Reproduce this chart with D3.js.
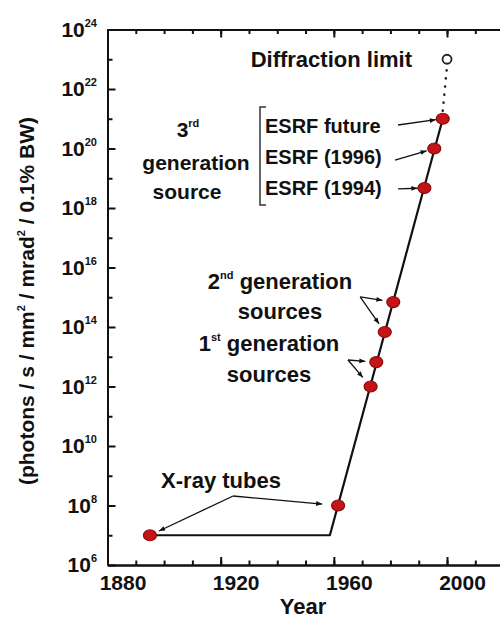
<!DOCTYPE html>
<html>
<head>
<meta charset="utf-8">
<script src="https://cdn.jsdelivr.net/npm/d3@7"></script>
<style>
  body { margin: 0; background: #fff; }
  svg { display: block; }
  text { font-family: "Liberation Sans", Arial, Helvetica, sans-serif; font-weight: bold; fill: #111; }
</style>
</head>
<body>
<svg id="chart" width="500" height="618"></svg>
<script>
// Peak brilliance of X-ray sources over time
const sourceNames = ["X-ray tube (early)", "X-ray tube (rotating anode)", "1st generation A", "1st generation B",
                     "2nd generation A", "2nd generation B", "ESRF (1994)", "ESRF (1996)", "ESRF future"];
const sourceYears = [1895, 1961.5, 1973, 1975, 1978, 1981, 1992, 1995.5, 1998.5];
const sourceBrilliance = [1e7, 1e8, 1e12, 6.6e12, 6.8e13, 6.9e14, 4.7e18, 1e20, 1e21];

// Overall trend: flat for tubes, then steep rise with synchrotrons
const trendYears = [1895, 1958.6, 1998.5];
const trendBrilliance = [1e7, 1e7, 1e21];

// Theoretical ceiling
const limitYear = [2000];
const limitBrilliance = [1e23];

// Axis ticks
const xMajorTicks = [1880, 1920, 1960, 2000];
const xMinorTicks = d3.range(1880, 2021, 10);
const yExponents = d3.range(6, 25);
const yLabelExponents = [6, 8, 10, 12, 14, 16, 18, 20, 22, 24];

const svg = d3.select("#chart");
const x = d3.scaleLinear().domain([1880, 2020]).range([107.5, 503.6]);
const y = d3.scaleLog().domain([1e6, 1e24]).range([565, 29.5]);

const axisStroke = (g) => {
  g.selectAll("path.domain").attr("stroke", "#111").attr("stroke-width", 2);
  g.selectAll(".tick line").attr("stroke", "#111").attr("stroke-width", 2);
};

// Bottom axis (ticks pointing inward)
svg.append("g").attr("transform", `translate(0,${y(1e6)})`)
  .call(d3.axisBottom(x).tickValues(xMinorTicks).tickSizeInner(-4.5).tickSizeOuter(0).tickFormat(""))
  .call(axisStroke);
const bottomMajor = svg.append("g").attr("transform", `translate(0,${y(1e6)})`)
  .call(d3.axisBottom(x).tickValues(xMajorTicks).tickSizeInner(-8).tickSizeOuter(0).tickFormat(d3.format("d")))
  .call(axisStroke);
bottomMajor.selectAll(".tick text")
  .attr("x", 15).attr("y", 25).attr("dy", 0)
  .attr("font-size", 21).attr("fill", "#111")
  .attr("font-family", "Liberation Sans, Arial, sans-serif").attr("font-weight", "bold");

// Top axis (mirror ticks, no labels)
svg.append("g").attr("transform", `translate(0,${y(1e24)})`)
  .call(d3.axisTop(x).tickValues(xMinorTicks).tickSizeInner(-4.5).tickSizeOuter(0).tickFormat(""))
  .call(axisStroke);
svg.append("g").attr("transform", `translate(0,${y(1e24)})`)
  .call(d3.axisTop(x).tickValues(xMajorTicks).tickSizeInner(-8).tickSizeOuter(0).tickFormat(""))
  .call(axisStroke);

// Left axis (log, one tick per decade, longer ticks on labelled decades)
const yTickVals = yExponents.map(e => Math.pow(10, e));
const leftAxis = svg.append("g").attr("transform", `translate(${x(1880)},0)`)
  .call(d3.axisLeft(y).tickValues(yTickVals).tickSizeOuter(0).tickFormat(""))
  .call(axisStroke);
leftAxis.selectAll(".tick line")
  .attr("x2", (d) => yLabelExponents.includes(Math.round(Math.log10(d))) ? 8 : 5);

// Right axis line (frame)
svg.append("line")
  .attr("x1", x(2020)).attr("x2", x(2020)).attr("y1", y(1e24)).attr("y2", y(1e6))
  .attr("stroke", "#111").attr("stroke-width", 2);

// Y tick labels as powers of ten
const yLabels = svg.append("g");
yLabelExponents.forEach(e => {
  const t = yLabels.append("text")
    .attr("x", 97).attr("y", y(Math.pow(10, e)) + 7)
    .attr("text-anchor", "end").attr("font-size", 21);
  t.append("tspan").text("10");
  t.append("tspan").attr("font-size", 11).attr("dy", -10).text(String(e));
});

// Axis titles
svg.append("text")
  .attr("transform", `translate(34,301) rotate(-90)`)
  .attr("text-anchor", "middle").attr("font-size", 21)
  .call(t => {
    t.append("tspan").text("(photons / s / mm");
    t.append("tspan").attr("font-size", 11).attr("dy", -9).text("2");
    t.append("tspan").attr("dy", 9).text(" / mrad");
    t.append("tspan").attr("font-size", 11).attr("dy", -9).text("2");
    t.append("tspan").attr("dy", 9).text(" / 0.1% BW)");
  });
svg.append("text")
  .attr("x", 303).attr("y", 614).attr("text-anchor", "middle").attr("font-size", 22)
  .text("Year");

// Trend line
const line = d3.line().x(d => x(d[0])).y(d => y(d[1]));
svg.append("path")
  .datum(d3.zip(trendYears, trendBrilliance))
  .attr("d", line)
  .attr("fill", "none").attr("stroke", "#111").attr("stroke-width", 2.2)
  .attr("stroke-linejoin", "round");

// Dotted extension to the diffraction limit
const lastIdx = sourceYears.length - 1;
svg.append("line")
  .attr("x1", x(sourceYears[lastIdx])).attr("y1", y(sourceBrilliance[lastIdx]) - 8)
  .attr("x2", x(limitYear[0])).attr("y2", y(limitBrilliance[0]) + 7)
  .attr("stroke", "#222").attr("stroke-width", 2.6)
  .attr("stroke-linecap", "round").attr("stroke-dasharray", "0.1 8");

// Source points
svg.append("g").selectAll("ellipse")
  .data(d3.zip(sourceYears, sourceBrilliance))
  .join("ellipse")
  .attr("cx", d => x(d[0])).attr("cy", d => y(d[1]))
  .attr("rx", 6.5).attr("ry", 5.5)
  .attr("fill", "#c41418").attr("stroke", "#8a0a0c").attr("stroke-width", 1.2);

// Diffraction-limit marker
svg.append("g").selectAll("circle")
  .data(d3.zip(limitYear, limitBrilliance))
  .join("circle")
  .attr("cx", d => x(d[0])).attr("cy", d => y(d[1]))
  .attr("r", 4.5).attr("fill", "#fff").attr("stroke", "#222").attr("stroke-width", 1.8);

// Arrowhead marker
svg.append("defs").append("marker")
  .attr("id", "arrow").attr("viewBox", "0 -5 10 10")
  .attr("refX", 10).attr("refY", 0)
  .attr("markerUnits", "userSpaceOnUse")
  .attr("markerWidth", 8).attr("markerHeight", 6).attr("orient", "auto")
  .append("path").attr("d", "M0,-4L10,0L0,4Z").attr("fill", "#111");

// Annotation arrows: tail in data space (year, log10 brilliance), head stops short of its point
const arrows = [
  { tail: [1982.7, 20.79], target: 8, gap: 7 },
  { tail: [1981.6, 19.61], target: 7, gap: 8 },
  { tail: [1982.7, 18.64], target: 6, gap: 7 },
  { tail: [1969.3, 15.01], target: 5, gap: 11 },
  { tail: [1969.3, 15.01], target: 4, gap: 10 },
  { tail: [1965.0, 12.89], target: 3, gap: 11 },
  { tail: [1965.0, 12.89], target: 2, gap: 12 },
  { tail: [1924.4, 8.32], target: 0, gap: 10 },
  { tail: [1924.4, 8.32], target: 1, gap: 16 }
];
svg.append("g").selectAll("line")
  .data(arrows)
  .join("line")
  .each(function (a) {
    const x0 = x(a.tail[0]), y0 = y(Math.pow(10, a.tail[1]));
    const tx = x(sourceYears[a.target]), ty = y(sourceBrilliance[a.target]);
    const len = Math.hypot(tx - x0, ty - y0);
    const x1 = tx - (tx - x0) / len * a.gap, y1 = ty - (ty - y0) / len * a.gap;
    d3.select(this).attr("x1", x0).attr("y1", y0).attr("x2", x1).attr("y2", y1);
  })
  .attr("stroke", "#111").attr("stroke-width", 1.3)
  .attr("marker-end", "url(#arrow)");

// Bracket grouping the ESRF entries
svg.append("path")
  .attr("d", "M266,107 H260 V205 H266")
  .attr("fill", "none").attr("stroke", "#333").attr("stroke-width", 1.5);

// Text labels
const label = (xPos, yPos, size, anchor, parts) => {
  const t = svg.append("text").attr("x", xPos).attr("y", yPos)
    .attr("font-size", size).attr("text-anchor", anchor);
  parts.forEach(p => {
    if (typeof p === "string") t.append("tspan").text(p);
    else t.append("tspan").attr("font-size", p.size).attr("dy", p.dy).text(p.text);
  });
  return t;
};

label(412, 67, 22, "end", ["Diffraction limit"]);

label(188, 137, 21, "middle", ["3", { text: "rd", size: 11, dy: -10 }]);
label(196, 170, 21, "middle", ["generation"]);
label(187, 199, 21, "middle", ["source"]);

label(265, 133, 20, "start", ["ESRF future"]);
label(265, 164, 20, "start", ["ESRF (1996)"]);
label(265, 195, 20, "start", ["ESRF (1994)"]);

label(280, 289, 22, "middle", ["2", { text: "nd", size: 11, dy: -10 }, { text: " generation", size: 22, dy: 10 }]);
label(280, 319, 22, "middle", ["sources"]);
label(269, 351, 22, "middle", ["1", { text: "st", size: 11, dy: -10 }, { text: " generation", size: 22, dy: 10 }]);
label(269, 382, 22, "middle", ["sources"]);

label(221, 488, 22, "middle", ["X-ray tubes"]);
</script>
</body>
</html>
